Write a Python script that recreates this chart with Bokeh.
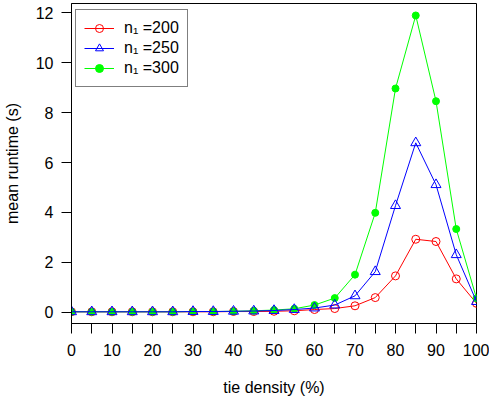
from bokeh.plotting import figure
from bokeh.models import FixedTicker, Range1d, Legend, LegendItem
from bokeh.embed import file_html
from bokeh.resources import INLINE

x = [0, 5, 10, 15, 20, 25, 30, 35, 40, 45, 50, 55, 60, 65, 70, 75, 80, 85, 90, 95, 100]
n200 = [0.01, 0.01, 0.01, 0.01, 0.01, 0.01, 0.01, 0.01, 0.02, 0.02, 0.03, 0.05, 0.10, 0.14, 0.25, 0.58, 1.45, 2.92, 2.83, 1.33, 0.35]
n250 = [0.01, 0.01, 0.01, 0.01, 0.01, 0.01, 0.02, 0.02, 0.03, 0.04, 0.06, 0.10, 0.16, 0.28, 0.65, 1.62, 4.27, 6.79, 5.11, 2.30, 0.42]
n300 = [0.01, 0.01, 0.01, 0.01, 0.01, 0.01, 0.02, 0.02, 0.03, 0.05, 0.08, 0.13, 0.28, 0.56, 1.50, 3.98, 8.97, 11.90, 8.46, 3.33, 0.55]
labels = ["n\u2081 =200", "n\u2081 =250", "n\u2081 =300"]
x_ticks = list(range(0, 101, 5))
y_ticks = [0, 2, 4, 6, 8, 10, 12]

FONT = "Liberation Sans"

p = figure(width=489, height=399, output_backend="svg", toolbar_location=None,
           x_range=Range1d(0, 100), y_range=Range1d(-0.46, 12.38),
           min_border_left=71, min_border_right=13, min_border_top=3, min_border_bottom=76)
p.grid.visible = False
p.outline_line_color = "black"
p.outline_line_width = 1
p.background_fill_color = "white"
p.border_fill_color = "white"

r1l = p.line(x, n200, line_color="#FF0000", line_width=1)
r1s = p.scatter(x, n200, marker="circle", size=8, line_color="#FF0000", fill_color=None, line_width=1)
r3l = p.line(x, n300, line_color="#00FF00", line_width=1)
r3s = p.scatter(x, n300, marker="circle", size=7, line_color="#00FF00", fill_color="#00FF00", line_width=1)
r2l = p.line(x, n250, line_color="#0000FF", line_width=1)
r2s = p.scatter(x, n250, marker="triangle", size=10, line_color="#0000FF", fill_color=None, line_width=1)

xa = p.xaxis[0]
xa.ticker = FixedTicker(ticks=x_ticks)
xa.major_label_overrides = {t: ("" if t % 10 else str(t)) for t in x_ticks}
ya = p.yaxis[0]
ya.ticker = FixedTicker(ticks=y_ticks)
for ax in (xa, ya):
    ax.minor_tick_line_color = None
    ax.major_tick_in = 0
    ax.major_tick_out = 10
    ax.major_label_text_font = FONT
    ax.major_label_text_font_size = "16px"
    ax.major_label_text_color = "black"
    ax.axis_label_text_font = FONT
    ax.axis_label_text_font_size = "16px"
    ax.axis_label_text_font_style = "normal"
    ax.axis_label_text_color = "black"
    ax.axis_line_color = "black"
    ax.major_tick_line_color = "black"
xa.axis_label = "tie density (%)"
ya.axis_label = "mean runtime (s)"
xa.major_label_standoff = 10
xa.axis_label_standoff = 20
ya.major_label_standoff = 8
ya.axis_label_standoff = 12

legend = Legend(items=[
    LegendItem(label=labels[0], renderers=[r1l, r1s]),
    LegendItem(label=labels[1], renderers=[r2l, r2s]),
    LegendItem(label=labels[2], renderers=[r3l, r3s]),
], location=(4, 236))
legend.padding = 8
legend.spacing = 0
legend.glyph_width = 30
legend.glyph_height = 20
legend.label_height = 20
legend.label_standoff = 10
legend.label_text_font = FONT
legend.label_text_font_size = "16px"
legend.label_text_color = "black"
legend.border_line_color = "black"
legend.border_line_width = 1
legend.background_fill_color = "white"
legend.background_fill_alpha = 1.0
p.add_layout(legend)

open("out.html", "w").write(file_html(p, INLINE))
